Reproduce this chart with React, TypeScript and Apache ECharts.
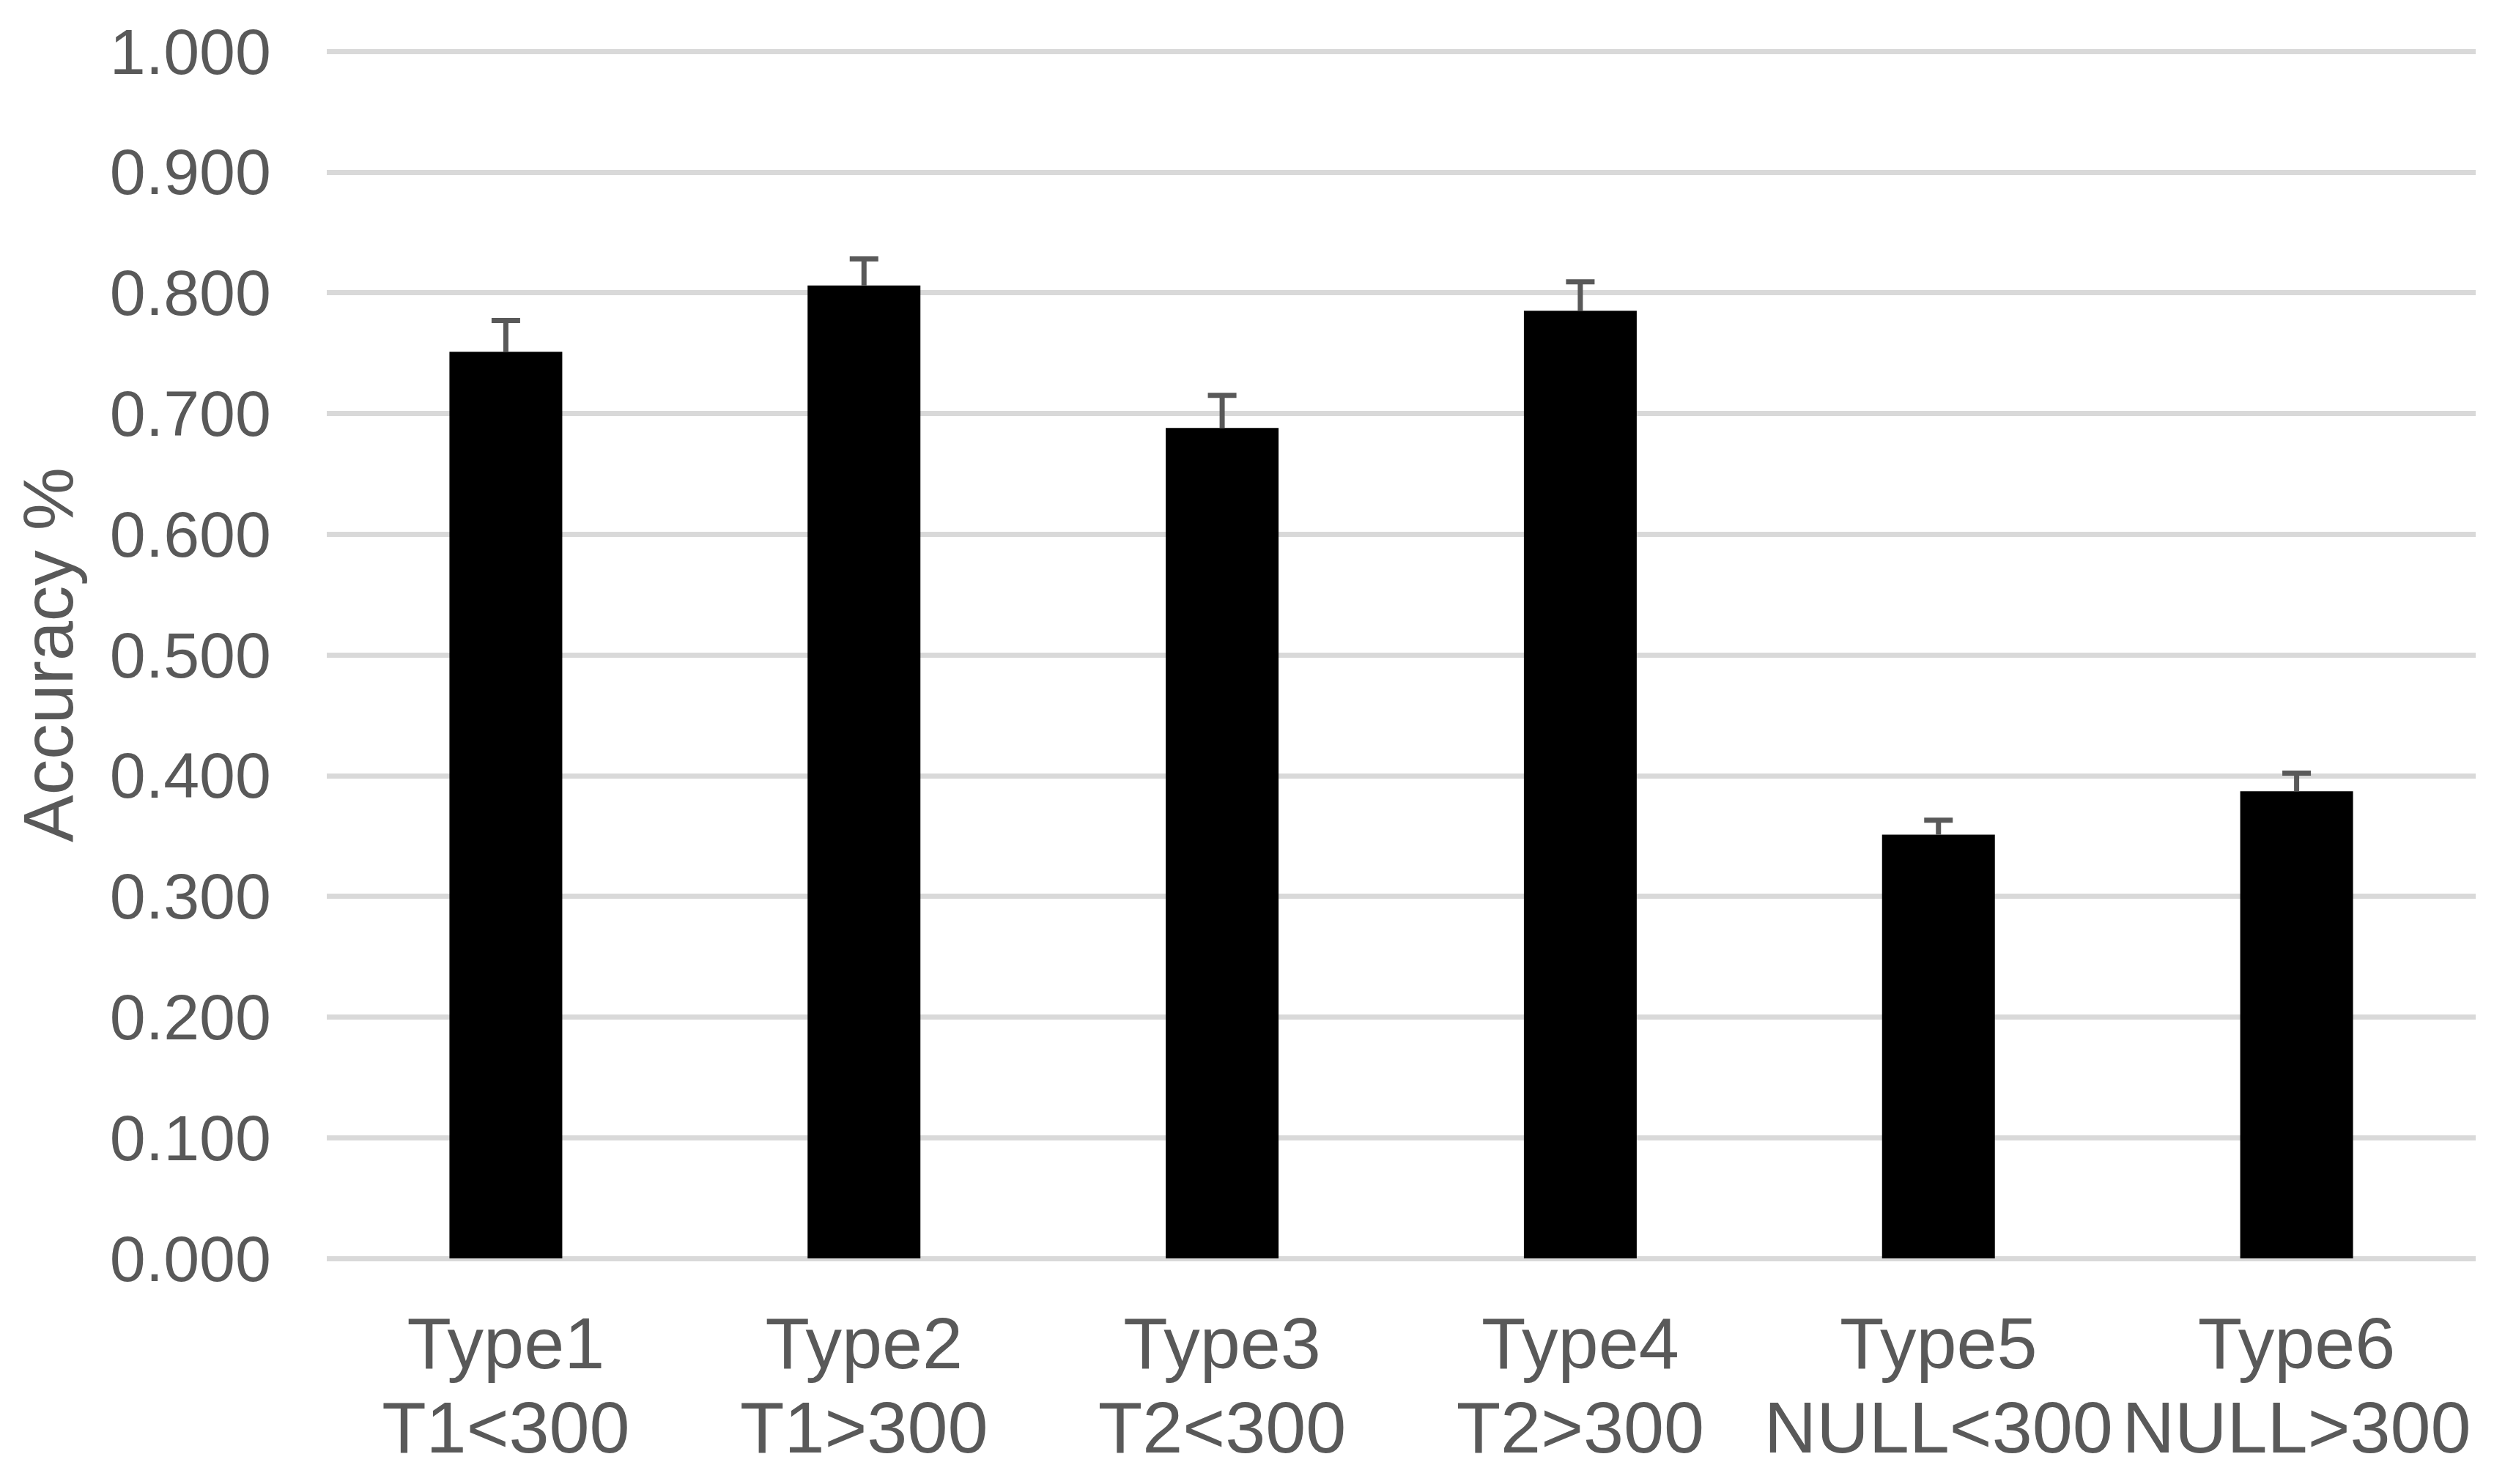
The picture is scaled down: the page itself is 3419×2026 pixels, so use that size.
import React, { useEffect, useRef } from "react";
import * as echarts from "echarts";

const categories = ["Type1\nT1<300", "Type2\nT1>300", "Type3\nT2<300", "Type4\nT2>300", "Type5\nNULL<300", "Type6\nNULL>300"];
const accuracy = [0.751, 0.806, 0.688, 0.785, 0.351, 0.387];
const errorPlus = [0.026, 0.022, 0.027, 0.024, 0.012, 0.015];
const yTicks = [0, 0.1, 0.2, 0.3, 0.4, 0.5, 0.6, 0.7, 0.8, 0.9, 1.0];

const TEXT = "#595959";
const FONT = "'Liberation Sans', Arial, sans-serif";

export default function App() {
  const ref = useRef<HTMLDivElement>(null);
  useEffect(() => {
    document.body.style.margin = "0";
    const chart = echarts.init(ref.current!, undefined, { renderer: "svg" });
    const errData = accuracy.map((v, i) => [i, v, v + errorPlus[i]]);
    chart.setOption({
      animation: false,
      backgroundColor: "#ffffff",
      grid: { left: 446, right: 40, top: 70, bottom: 308, containLabel: false, outerBoundsMode: "none" },
      xAxis: {
        type: "category",
        data: categories,
        axisLine: { show: false },
        axisTick: { show: false },
        axisLabel: {
          interval: 0,
          color: TEXT,
          fontFamily: FONT,
          fontSize: 99,
          lineHeight: 115,
          margin: 58,
        },
      },
      yAxis: {
        type: "value",
        min: yTicks[0],
        max: yTicks[yTicks.length - 1],
        interval: 0.1,
        name: "Accuracy %",
        nameLocation: "middle",
        nameGap: 332,
        nameTextStyle: { color: TEXT, fontFamily: FONT, fontSize: 97 },
        axisLine: { show: false },
        axisTick: { show: false },
        axisLabel: {
          color: TEXT,
          fontFamily: FONT,
          fontSize: 88,
          margin: 76,
          formatter: (v: number) => v.toFixed(3),
        },
        splitLine: { show: true, lineStyle: { color: "#d9d9d9", width: 7 } },
      },
      series: [
        {
          type: "bar",
          data: accuracy,
          barWidth: 154,
          itemStyle: { color: "#000000" },
          z: 2,
        },
        {
          type: "custom",
          data: errData,
          z: 3,
          renderItem: (params: any, api: any) => {
            const x = api.value(0);
            const low = api.coord([x, api.value(1)]);
            const high = api.coord([x, api.value(2)]);
            const half = 19.5;
            const style = { stroke: "#595959", lineWidth: 7, fill: "none" };
            return {
              type: "group",
              children: [
                { type: "line", shape: { x1: low[0], y1: low[1], x2: high[0], y2: high[1] }, style },
                { type: "line", shape: { x1: high[0] - half, y1: high[1], x2: high[0] + half, y2: high[1] }, style },
              ],
            };
          },
        },
      ],
    });
    return () => chart.dispose();
  }, []);
  return <div ref={ref} style={{ width: 3419, height: 2026 }} />;
}
